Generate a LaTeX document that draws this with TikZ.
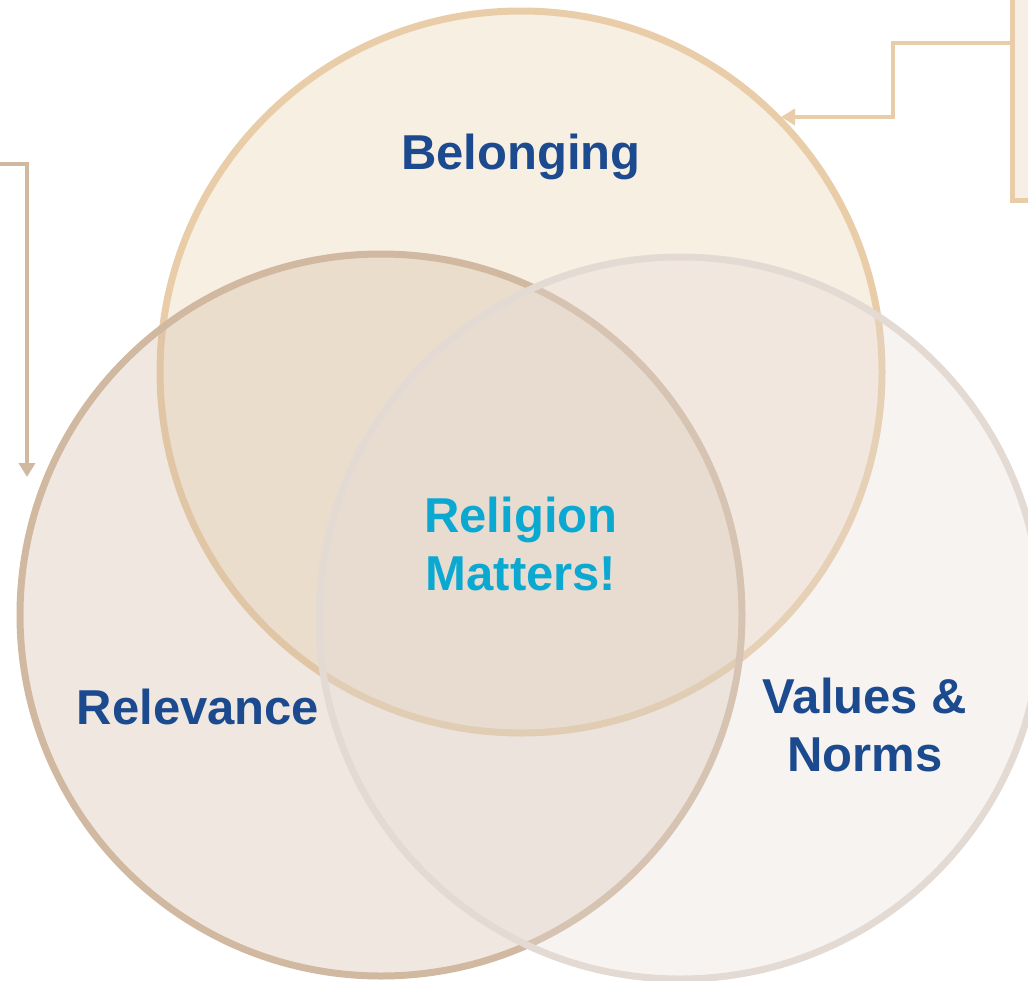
\documentclass[tikz,border=0pt]{standalone}
\usepackage{fontspec}
\setmainfont{Liberation Sans}
\usetikzlibrary{arrows.meta}
\definecolor{topstroke}{HTML}{E8CDA8}
\definecolor{leftstroke}{HTML}{D0B9A0}
\definecolor{rightstroke}{HTML}{E4DAD4}
\definecolor{topfill}{HTML}{F7EFE6}
\definecolor{labelblue}{HTML}{1C4A8E}
\definecolor{labelcyan}{HTML}{0BA9D2}
\tikzset{
  venn/.style={circle, minimum size=722pt, inner sep=0pt, line width=7pt, fill opacity=0.33, draw opacity=1},
  lbl/.style={font=\fontsize{49}{58}\selectfont\bfseries, inner sep=0pt, align=center},
  conn/.style={line width=3.5pt, -{Triangle[width=16pt,length=14pt]}},
}
\begin{document}
\begin{tikzpicture}[x=1pt,y=-1pt]
\useasboundingbox (0,0) rectangle (1028,980);
% side box (top right, cut off)
\node[draw=topstroke, fill=topfill, line width=5pt, minimum width=60pt, minimum height=260pt, inner sep=0pt, anchor=south west] (box) at (1010,203) {};
% circles
\node[venn, draw=topstroke, fill=topstroke] (top) at (521,372) {};
\node[venn, draw=leftstroke, fill=leftstroke] (left) at (381,615) {};
\node[venn, draw=rightstroke, fill=rightstroke] (right) at (680,618) {};
% labels
\node[lbl, text=labelblue, anchor=base] (belonging) at (521,169) {Belonging};
\node[lbl, text=labelcyan, anchor=base] (religion) at (521,590) {Religion\\Matters!};
\node[lbl, text=labelblue, anchor=base] (relevance) at (198,724) {Relevance};
\node[lbl, text=labelblue, anchor=base] (values) at (865,771) {Values \&\\Norms};
% connectors
\coordinate (lstart) at (-5,164);
\coordinate (ltip) at (27,477);
\draw[conn, draw=leftstroke] (lstart) -| (ltip);
\coordinate (tstart) at (box.west |- 0,43);
\coordinate (tbend) at (893,117);
\coordinate (ttip) at (781,117);
\draw[conn, draw=topstroke] (tstart) -| (tbend) -- (ttip);
\end{tikzpicture}
\end{document}
